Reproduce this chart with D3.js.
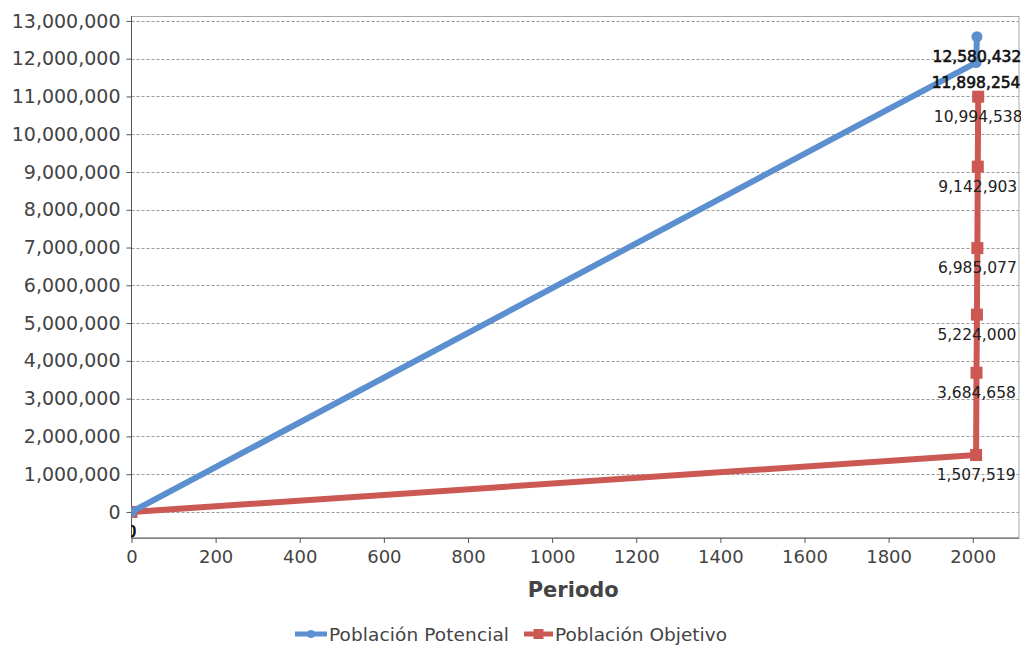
<!DOCTYPE html>
<html>
<head>
<meta charset="utf-8">
<script src="https://cdn.jsdelivr.net/npm/d3@7"></script>
<style>
body { margin: 0; background: #fff; }
text { font-family: "DejaVu Sans", Verdana, sans-serif; }
</style>
</head>
<body>
<script>
// data
const potencialYears = [0, 2008, 2010];
const potencialValues = [0, 11898254, 12580432];
const objetivoYears = [0, 2008, 2009, 2010, 2011, 2012, 2013];
const objetivoValues = [0, 1507519, 3684658, 5224000, 6985077, 9142903, 10994538];
const yTicks = d3.range(0, 13000001, 1000000);
const xTicks = d3.range(0, 2001, 200);
const seriesNames = ["Población Potencial", "Población Objetivo"];
const seriesColors = ["#5b8fcf", "#cc5853"];

const W = 1021, H = 647;
const pLeft = 131.5, pRight = 1019, pTop = 16, pBottom = 538;

const svg = d3.select("body").append("svg")
    .attr("width", W)
    .attr("height", H);

const x = d3.scaleLinear().domain([0, 2110]).range([pLeft, pRight]);
const y = d3.scaleLinear().domain([-690000, 13130000]).range([pBottom, pTop]);

// grid
svg.append("g").selectAll("line")
    .data(yTicks)
    .enter().append("line")
    .attr("x1", pLeft).attr("x2", pRight)
    .attr("y1", d => Math.round(y(d)) + 0.5).attr("y2", d => Math.round(y(d)) + 0.5)
    .attr("stroke", "#999")
    .attr("stroke-dasharray", "3,2");

// frame
svg.append("rect")
    .attr("x", pLeft).attr("y", pTop + 0.5)
    .attr("width", pRight - pLeft).attr("height", pBottom - pTop)
    .attr("fill", "none")
    .attr("stroke", "#aaa");

// axes
const yAxis = svg.append("g")
    .attr("transform", `translate(${pLeft},0)`)
    .call(d3.axisLeft(y).tickValues(yTicks).tickSize(5).tickPadding(6).tickFormat(d3.format(",")));
yAxis.select(".domain").attr("stroke", "#555").attr("d", `M0,${pTop}V${pBottom}`);
yAxis.selectAll(".tick line").attr("stroke", "#555");
yAxis.selectAll("text").attr("fill", "#444").style("font-size", "19px");

const xAxis = svg.append("g")
    .attr("transform", `translate(0,${pBottom})`)
    .call(d3.axisBottom(x).tickValues(xTicks).tickSize(5).tickPadding(7).tickFormat(d3.format("d")));
xAxis.select(".domain").attr("stroke", "#555").attr("d", `M${pLeft},0H${pRight}`);
xAxis.selectAll(".tick line").attr("stroke", "#555");
xAxis.selectAll("text").attr("fill", "#444").style("font-size", "18px");

svg.append("text")
    .attr("x", (pLeft + pRight) / 2 - 2).attr("y", 597)
    .attr("text-anchor", "middle")
    .attr("fill", "#444")
    .style("font-size", "21px")
    .style("font-weight", "bold")
    .text("Periodo");

// clip
svg.append("clipPath").attr("id", "plot")
    .append("rect").attr("x", pLeft).attr("y", pTop).attr("width", pRight - pLeft).attr("height", pBottom - pTop);
svg.append("clipPath").attr("id", "labels")
    .append("rect").attr("x", pLeft).attr("y", pTop).attr("width", W - pLeft).attr("height", pBottom - pTop);

const line = d3.line().x(d => x(d[0])).y(d => y(d[1]));
const potencial = potencialYears.map((d, i) => [d, potencialValues[i]]);
const objetivo = objetivoYears.map((d, i) => [d, objetivoValues[i]]);

const plot = svg.append("g").attr("clip-path", "url(#plot)");

plot.append("path").datum(objetivo)
    .attr("d", line).attr("fill", "none")
    .attr("stroke", seriesColors[1]).attr("stroke-width", 6).attr("stroke-linejoin", "round");
plot.selectAll(".sq").data(objetivo).enter().append("rect")
    .attr("x", d => x(d[0]) - 6).attr("y", d => y(d[1]) - 6)
    .attr("width", 12).attr("height", 12)
    .attr("fill", seriesColors[1]);

plot.append("path").datum(potencial)
    .attr("d", line).attr("fill", "none")
    .attr("stroke", seriesColors[0]).attr("stroke-width", 6).attr("stroke-linejoin", "round");
plot.selectAll(".dot").data(potencial).enter().append("circle")
    .attr("cx", d => x(d[0])).attr("cy", d => y(d[1]))
    .attr("r", 5.5)
    .attr("fill", seriesColors[0]);

// labels
const lab = svg.append("g").attr("clip-path", "url(#labels)");
lab.selectAll(".lo").data(objetivo).enter().append("text")
    .attr("x", d => x(d[0])).attr("y", d => y(d[1]) + 25)
    .attr("text-anchor", "middle")
    .attr("fill", "#222")
    .style("font-size", "15.5px")
    .text(d => d3.format(",")(d[1]));
lab.selectAll(".lp").data(potencial).enter().append("text")
    .attr("x", d => x(d[0])).attr("y", d => y(d[1]) + 25)
    .attr("text-anchor", "middle")
    .attr("fill", "#111")
    .attr("stroke", "#111")
    .attr("stroke-width", 0.6)
    .style("font-size", "15.5px")
    .text(d => d3.format(",")(d[1]));

// legend
const legend = svg.append("g");
const lx = [295, 524];
const lw = [32, 29];
seriesNames.forEach((name, i) => {
    const g = legend.append("g").attr("transform", `translate(${lx[i]},634)`);
    g.append("line").attr("x1", 0).attr("x2", lw[i]).attr("y1", 0).attr("y2", 0)
        .attr("stroke", seriesColors[i]).attr("stroke-width", 5);
    if (i === 0) {
        g.append("circle").attr("cx", lw[i] / 2).attr("cy", 0).attr("r", 4).attr("fill", seriesColors[i]);
    } else {
        g.append("rect").attr("x", lw[i] / 2 - 5).attr("y", -5).attr("width", 10).attr("height", 10).attr("fill", seriesColors[i]);
    }
    g.append("text").attr("x", lw[i] + 2).attr("y", 6.5)
        .attr("fill", "#444")
        .style("font-size", "18.5px")
        .attr("textLength", i === 0 ? 180 : 172)
        .text(name);
});
</script>
</body>
</html>
